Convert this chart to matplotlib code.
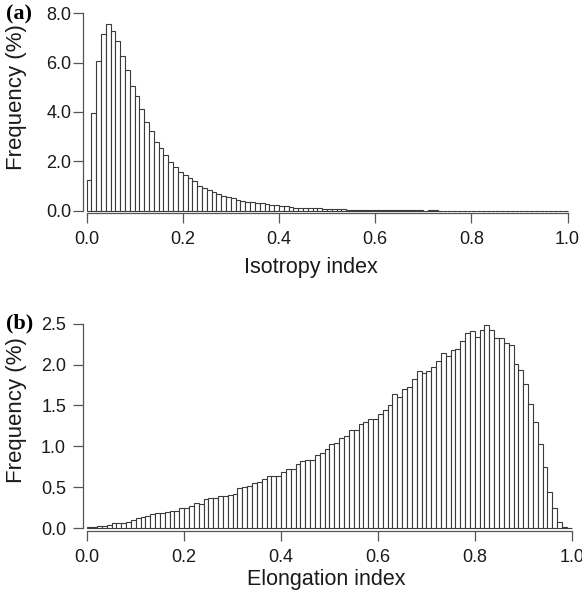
import numpy as np
import matplotlib
matplotlib.use("Agg")
import matplotlib.pyplot as plt

# ---- data (percent frequency per 0.01 bin) ----
bin_edges = np.round(np.arange(0, 1.0001, 0.01), 2)

isotropy_freq = [
    1.23, 3.97, 6.08, 7.14, 7.58, 7.28, 6.89, 6.26, 5.69, 5.05,
    4.66, 4.11, 3.58, 3.24, 2.80, 2.54, 2.26, 1.98, 1.77, 1.58,
    1.43, 1.31, 1.19, 1.02, 0.92, 0.82, 0.74, 0.69, 0.58, 0.54,
    0.53, 0.45, 0.41, 0.36, 0.34, 0.32, 0.31, 0.26, 0.22, 0.22,
    0.20, 0.18, 0.14, 0.12, 0.12, 0.11, 0.10, 0.10, 0.10, 0.05,
    0.05, 0.05, 0.05, 0.05, 0.04, 0.04, 0.03, 0.03, 0.03, 0.03,
    0.03, 0.03, 0.03, 0.03, 0.03, 0.03, 0.03, 0.03, 0.03, 0.03,
    0.00, 0.03, 0.03, 0.00, 0.00, 0.00, 0.00, 0.00, 0.00, 0.00,
    0.00, 0.00, 0.00, 0.00, 0.00, 0.00, 0.00, 0.00, 0.00, 0.00,
    0.00, 0.00, 0.00, 0.00, 0.00, 0.00, 0.00, 0.00, 0.00, 0.00,
]

elongation_freq = [
    0.012, 0.016, 0.024, 0.024, 0.040, 0.060, 0.060, 0.060, 0.080, 0.100,
    0.120, 0.140, 0.155, 0.175, 0.183, 0.190, 0.200, 0.215, 0.215, 0.250,
    0.250, 0.270, 0.310, 0.300, 0.358, 0.366, 0.366, 0.400, 0.400, 0.410,
    0.415, 0.490, 0.500, 0.520, 0.557, 0.570, 0.600, 0.634, 0.634, 0.640,
    0.687, 0.728, 0.728, 0.780, 0.820, 0.830, 0.840, 0.890, 0.920, 0.967,
    1.030, 1.037, 1.100, 1.126, 1.195, 1.195, 1.272, 1.293, 1.333, 1.333,
    1.400, 1.443, 1.504, 1.638, 1.598, 1.707, 1.732, 1.825, 1.919, 1.902,
    1.927, 1.970, 2.045, 2.142, 2.110, 2.183, 2.190, 2.290, 2.390, 2.410,
    2.333, 2.420, 2.480, 2.427, 2.325, 2.325, 2.268, 2.244, 2.012, 1.930,
    1.764, 1.524, 1.297, 1.024, 0.748, 0.439, 0.244, 0.077, 0.020, 0.005,
]

x_ticks = [0.0, 0.2, 0.4, 0.6, 0.8, 1.0]
x_ticklabels = ["0.0", "0.2", "0.4", "0.6", "0.8", "1.0"]
ya_ticks = [0.0, 2.0, 4.0, 6.0, 8.0]
ya_ticklabels = ["0.0", "2.0", "4.0", "6.0", "8.0"]
yb_ticks = [0.0, 0.5, 1.0, 1.5, 2.0, 2.5]
yb_ticklabels = ["0.0", "0.5", "1.0", "1.5", "2.0", "2.5"]

W, H = 582, 594
fig = plt.figure(figsize=(W / 100, H / 100), dpi=100)
plt.rcParams['font.family'] = ['Liberation Sans', 'DejaVu Sans']

def px_axes(left, top, right, bottom):
    return fig.add_axes([left / W, 1 - bottom / H, (right - left) / W, (bottom - top) / H])

axis_col = '#555555'
edge_col = '#3a3a3a'
text_col = '#1a1a1a'

def style(ax, xlim, ylim, yticks, yticklabels, ybound, ypad):
    ax.set_xlim(*xlim)
    ax.set_ylim(*ylim)
    for s in ['top', 'right']:
        ax.spines[s].set_visible(False)
    ax.spines['left'].set_bounds(ybound[0], ybound[1])
    ax.spines['bottom'].set_bounds(0, 1)
    for s in ['left', 'bottom']:
        ax.spines[s].set_color(axis_col)
        ax.spines[s].set_linewidth(0.9)
    ax.set_xticks(x_ticks)
    ax.set_xticklabels(x_ticklabels)
    ax.set_yticks(yticks)
    ax.set_yticklabels(yticklabels)
    ax.tick_params(axis='both', direction='out', length=7, width=0.9,
                   color=axis_col, labelsize=13, labelcolor=text_col)
    ax.tick_params(axis='x', pad=6)
    ax.tick_params(axis='y', pad=ypad)

# ---- panel (a) ----
ax1 = px_axes(83.3, 12, 570, 213.3)
ax1.bar(bin_edges[:-1], isotropy_freq, width=0.01, align='edge',
        facecolor='white', edgecolor=edge_col, linewidth=0.8)
style(ax1, (-0.0067, 1.005), (-0.105, 8.05), ya_ticks, ya_ticklabels, (0, 8), 1.5)

# ---- panel (b) ----
ax2 = px_axes(82.7, 322, 576.5, 530.5)
ax2.bar(bin_edges[:-1], elongation_freq, width=0.01, align='edge',
        facecolor='white', edgecolor=edge_col, linewidth=0.8)
style(ax2, (-0.0095, 1.01), (-0.027, 2.52), yb_ticks, yb_ticklabels, (0, 2.5), 5)

# ---- labels ----
def ftext(x, y, s, **kw):
    fig.text(x / W, 1 - y / H, s, **kw)

ftext(311, 268, "Isotropy index", ha='center', va='center', fontsize=15.5, color=text_col)
ftext(326, 580, "Elongation index", ha='center', va='center', fontsize=15.5, color=text_col)
ftext(17, 97, "Frequency (%)", ha='center', va='center', rotation=90, fontsize=16, color=text_col)
ftext(17, 410, "Frequency (%)", ha='center', va='center', rotation=90, fontsize=16, color=text_col)
ftext(6, 14, "(a)", ha='left', va='center', fontsize=16, fontweight='bold',
      family=['Liberation Serif', 'DejaVu Serif'])
ftext(6, 323, "(b)", ha='left', va='center', fontsize=16, fontweight='bold',
      family=['Liberation Serif', 'DejaVu Serif'])

fig.savefig("out.png", dpi=100)
